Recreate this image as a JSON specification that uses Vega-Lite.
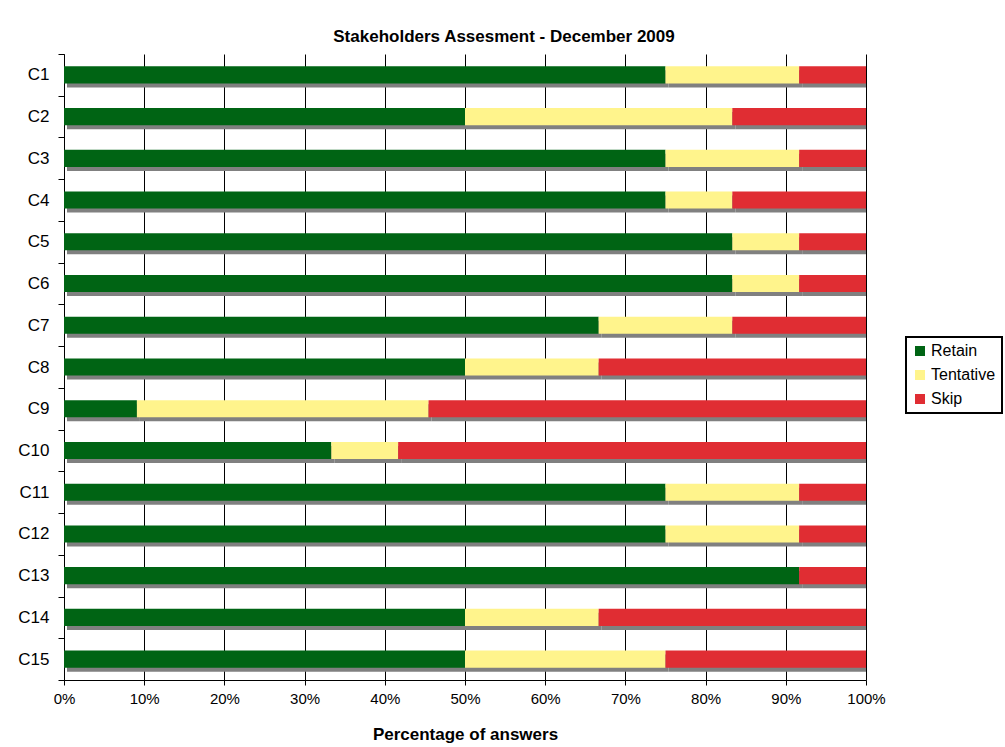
{
  "$schema": "https://vega.github.io/schema/vega-lite/v6.json",
  "width": 802,
  "height": 626,
  "autosize": {"type": "none"},
  "padding": {"left": 64, "top": 54, "right": 139, "bottom": 67},
  "background": "white",
  "title": {
    "text": "Stakeholders Assesment - December 2009",
    "font": "Liberation Sans",
    "fontSize": 17,
    "fontWeight": "bold",
    "color": "#000000",
    "anchor": "middle",
    "dx": 39,
    "offset": -1
  },
  "data": {
    "values": [
      {"c": "C1", "s": "Retain", "k": 1, "n": 9},
      {"c": "C1", "s": "Tentative", "k": 2, "n": 2},
      {"c": "C1", "s": "Skip", "k": 3, "n": 1},
      {"c": "C2", "s": "Retain", "k": 1, "n": 6},
      {"c": "C2", "s": "Tentative", "k": 2, "n": 4},
      {"c": "C2", "s": "Skip", "k": 3, "n": 2},
      {"c": "C3", "s": "Retain", "k": 1, "n": 9},
      {"c": "C3", "s": "Tentative", "k": 2, "n": 2},
      {"c": "C3", "s": "Skip", "k": 3, "n": 1},
      {"c": "C4", "s": "Retain", "k": 1, "n": 9},
      {"c": "C4", "s": "Tentative", "k": 2, "n": 1},
      {"c": "C4", "s": "Skip", "k": 3, "n": 2},
      {"c": "C5", "s": "Retain", "k": 1, "n": 10},
      {"c": "C5", "s": "Tentative", "k": 2, "n": 1},
      {"c": "C5", "s": "Skip", "k": 3, "n": 1},
      {"c": "C6", "s": "Retain", "k": 1, "n": 10},
      {"c": "C6", "s": "Tentative", "k": 2, "n": 1},
      {"c": "C6", "s": "Skip", "k": 3, "n": 1},
      {"c": "C7", "s": "Retain", "k": 1, "n": 8},
      {"c": "C7", "s": "Tentative", "k": 2, "n": 2},
      {"c": "C7", "s": "Skip", "k": 3, "n": 2},
      {"c": "C8", "s": "Retain", "k": 1, "n": 6},
      {"c": "C8", "s": "Tentative", "k": 2, "n": 2},
      {"c": "C8", "s": "Skip", "k": 3, "n": 4},
      {"c": "C9", "s": "Retain", "k": 1, "n": 1},
      {"c": "C9", "s": "Tentative", "k": 2, "n": 4},
      {"c": "C9", "s": "Skip", "k": 3, "n": 6},
      {"c": "C10", "s": "Retain", "k": 1, "n": 4},
      {"c": "C10", "s": "Tentative", "k": 2, "n": 1},
      {"c": "C10", "s": "Skip", "k": 3, "n": 7},
      {"c": "C11", "s": "Retain", "k": 1, "n": 9},
      {"c": "C11", "s": "Tentative", "k": 2, "n": 2},
      {"c": "C11", "s": "Skip", "k": 3, "n": 1},
      {"c": "C12", "s": "Retain", "k": 1, "n": 9},
      {"c": "C12", "s": "Tentative", "k": 2, "n": 2},
      {"c": "C12", "s": "Skip", "k": 3, "n": 1},
      {"c": "C13", "s": "Retain", "k": 1, "n": 11},
      {"c": "C13", "s": "Tentative", "k": 2, "n": 0},
      {"c": "C13", "s": "Skip", "k": 3, "n": 1},
      {"c": "C14", "s": "Retain", "k": 1, "n": 6},
      {"c": "C14", "s": "Tentative", "k": 2, "n": 2},
      {"c": "C14", "s": "Skip", "k": 3, "n": 4},
      {"c": "C15", "s": "Retain", "k": 1, "n": 6},
      {"c": "C15", "s": "Tentative", "k": 2, "n": 3},
      {"c": "C15", "s": "Skip", "k": 3, "n": 3}
    ]
  },
  "encoding": {
    "y": {
      "field": "c",
      "type": "nominal",
      "sort": null,
      "scale": {"paddingInner": 0, "paddingOuter": 0},
      "axis": {
        "title": null,
        "tickBand": "extent",
        "tickSize": 6,
        "tickColor": "#000000",
        "domainColor": "#000000",
        "labelPadding": 9,
        "labelFont": "Liberation Sans",
        "labelFontSize": 17,
        "labelColor": "#000000",
        "grid": false
      }
    },
    "x": {
      "field": "n",
      "type": "quantitative",
      "stack": "normalize",
      "scale": {"domain": [0, 1], "nice": false},
      "axis": {
        "title": "Percentage of answers",
        "titleFont": "Liberation Sans",
        "titleFontSize": 17,
        "titleFontWeight": "bold",
        "titleColor": "#000000",
        "titlePadding": 20,
        "format": ".0%",
        "values": [0, 0.1, 0.2, 0.3, 0.4, 0.5, 0.6, 0.7, 0.8, 0.9, 1],
        "labelFlush": false,
        "labelFont": "Liberation Sans",
        "labelFontSize": 15,
        "labelColor": "#000000",
        "labelPadding": 6,
        "tickSize": 5,
        "tickColor": "#000000",
        "domainColor": "#000000",
        "grid": true,
        "gridColor": "#000000",
        "gridWidth": 1
      }
    },
    "order": {"field": "k", "type": "quantitative"}
  },
  "layer": [
    {
      "mark": {"type": "bar", "height": {"band": 0.41}, "color": "#808080", "xOffset": 3, "yOffset": 4, "clip": true, "cornerRadius": 0}
    },
    {
      "mark": {"type": "bar", "height": {"band": 0.41}},
      "encoding": {
        "color": {
          "field": "s",
          "type": "nominal",
          "scale": {"domain": ["Retain", "Tentative", "Skip"], "range": ["#006414", "#FFF48C", "#E02D33"]},
          "legend": {
            "title": null,
            "orient": "none",
            "legendX": 842,
            "legendY": 283,
            "direction": "vertical",
            "padding": 6,
            "strokeColor": "#000000",
            "fillColor": "white",
            "symbolType": "square",
            "symbolSize": 100,
            "symbolStrokeWidth": 0,
            "symbolOpacity": 1,
            "labelFont": "Liberation Sans",
            "labelFontSize": 16,
            "labelColor": "#000000",
            "labelOffset": 3,
            "rowPadding": 8,
            "encode": {"legend": {"update": {"strokeWidth": {"value": 2}}}}
          }
        }
      }
    }
  ],
  "config": {
    "view": {"stroke": null},
    "axis": {"domainWidth": 1, "tickWidth": 1}
  }
}
